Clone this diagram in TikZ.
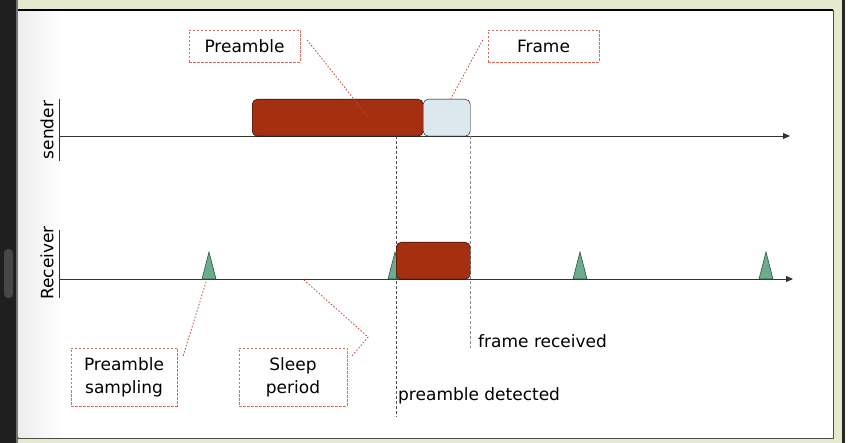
\documentclass[tikz,border=0pt]{standalone}
\usepackage{fontspec}
\setmainfont{DejaVu Sans}
\usetikzlibrary{arrows.meta}
\definecolor{brick}{RGB}{165,48,17}
\definecolor{pale}{RGB}{219,232,238}
\definecolor{mint}{RGB}{108,172,140}
\definecolor{pine}{RGB}{38,88,64}
\definecolor{lead}{RGB}{208,112,96}
\definecolor{wire}{RGB}{190,70,50}
\definecolor{olive}{RGB}{227,234,205}
\begin{document}
\begin{tikzpicture}[x=1pt,y=-1pt,font=\fontsize{17}{23}\selectfont]
        \tikzstyle{slot}=[draw=black,thin,rounded corners=5pt,inner sep=0pt,anchor=north west]
        \tikzstyle{note}=[draw=lead,dash pattern=on 2.5pt off 1.5pt,inner sep=0pt,align=center]
        \tikzstyle{leader}=[draw=wire,dash pattern=on 1.5pt off 1.8pt,line width=0.8pt]
        \tikzstyle{axis}=[draw=black!80,line width=0.8pt,-{Triangle[length=7pt,width=6pt]}]
        \tikzstyle{tickline}=[dash pattern=on 3pt off 2pt,line width=0.7pt]
        \useasboundingbox (0,0) rectangle (862,443);
        % window frame
        \fill[olive] (0,0) rectangle (862,443);
        \fill[white] (845,0) rectangle (862,443);
        \fill[black!85] (842,0) rectangle (845,443);
        \fill[black!88] (0,0) rectangle (16,443);
        \fill[black!55] (16,0) rectangle (18,443);
        \fill[black!72,rounded corners=4pt] (4,249) rectangle (13,298);
        \filldraw[fill=white,draw=black!70,thin] (18,10) rectangle (833,438);
        \shade[left color=black!7,right color=white] (18.5,10.8) rectangle (62,437.5);
        \draw[black,line width=1.4pt] (18,10) -- (833,10);
       \begin{scope}
         % time lines
         \coordinate (s0) at (59,136);
         \coordinate (s1) at (790,136);
         \coordinate (r0) at (59,279);
         \coordinate (r1) at (793,279);
         \draw[black!80,line width=0.8pt] (59,99) -- (59,161);
         \draw[black!80,line width=0.8pt] (59,230) -- (59,298);
         \node[rotate=90] (snd) at (47,130) {sender};
         \node[rotate=90] (rcv) at (47,263) {Receiver};
         \path[axis] (s0) -- (s1);
         \path[axis] (r0) -- (r1);
         % sampling instants
         \foreach \x in {209,395,580,766}
           \filldraw[fill=mint,draw=pine,line width=0.6pt] (\x-7,279) -- (\x,252) -- (\x+7,279) -- cycle;
         % detection marks
         \coordinate (det) at (396,417);
         \coordinate (rec) at (470,348);
         \draw[tickline,black!70] (det |- s0) -- (det);
         \draw[tickline,black!45] (rec |- s0) -- (rec);
         % bursts
         \node [slot,fill=brick,minimum width=171pt,minimum height=37pt] (pre) at (252,99) {};
         \node [slot,fill=pale,minimum width=47pt,minimum height=37pt] (frm) at (423,99) {};
         \node [slot,fill=brick,minimum width=74pt,minimum height=37pt] (rx) at (396,242) {};
         % notes
         \node [note,minimum width=111pt,minimum height=32pt] (pnote) at (244.5,46) {Preamble};
         \node [note,minimum width=111pt,minimum height=32pt] (fnote) at (543.5,46) {Frame};
         \node [note,minimum width=106pt,minimum height=58pt] (snote) at (124,377) {Preamble\\sampling};
         \node [note,minimum width=108pt,minimum height=58pt] (lnote) at (293,377) {Sleep\\period};
         \coordinate (smp) at (206,282);
         \coordinate (slp) at (304,280);
         \coordinate (knee) at (368,337);
         \path[leader] ([xshift=7pt,yshift=6pt]pnote.east) -- (368,117);
         \path[leader] ([xshift=-5pt,yshift=6pt]fnote.west) -- ([xshift=4pt]frm.north);
         \path[leader] ([xshift=6pt,yshift=-8pt]snote.north east) -- (smp);
         \path[leader] ([xshift=5pt,yshift=-8pt]lnote.north east) -- (knee) -- (slp);
         \node [anchor=base west,inner sep=0pt] (rlabel) at (478,348) {frame received};
         \node [anchor=base west,inner sep=0pt] (dlabel) at (398,400) {preamble detected};
        \end{scope}
      \end{tikzpicture}
\end{document}
